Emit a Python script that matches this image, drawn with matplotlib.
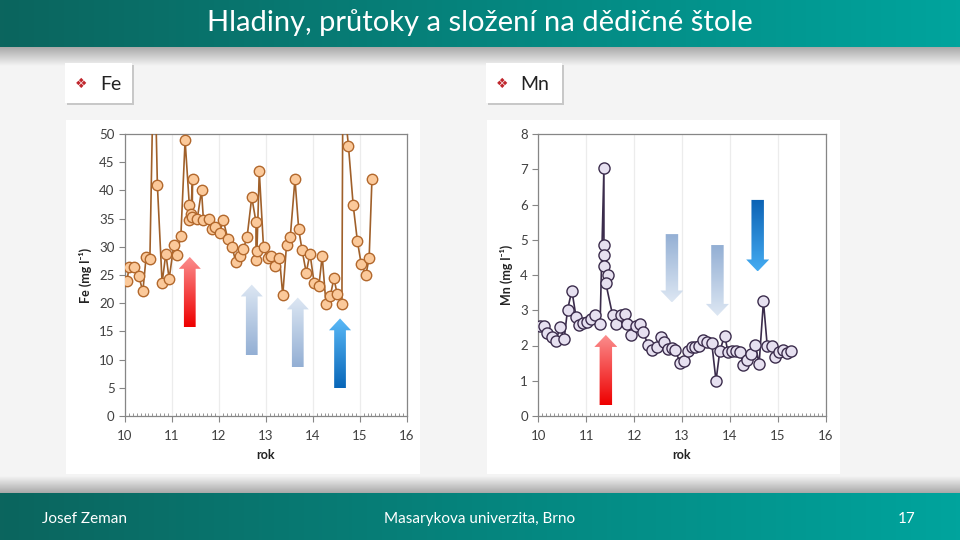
import numpy as np
import matplotlib
matplotlib.use('Agg')
import matplotlib.pyplot as plt
from matplotlib.patches import Polygon, Rectangle
from matplotlib.colors import LinearSegmentedColormap
from matplotlib.ticker import MultipleLocator

plt.rcParams['font.family'] = ['Lato', 'DejaVu Sans']

# data (x = rok, values in mg/l)
fe_x = [10.04, 10.09, 10.19, 10.29, 10.38, 10.45, 10.53, 10.62, 10.69, 10.79,
        10.87, 10.94, 11.04, 11.10, 11.19, 11.28, 11.37, 11.37, 11.40, 11.44,
        11.43, 11.54, 11.63, 11.67, 11.78, 11.85, 11.92, 12.02, 12.09, 12.19,
        12.28, 12.36, 12.45, 12.52, 12.60, 12.70, 12.79, 12.79, 12.81, 12.86,
        12.95, 13.04, 13.12, 13.20, 13.29, 13.36, 13.44, 13.52, 13.62, 13.70,
        13.77, 13.86, 13.94, 14.03, 14.13, 14.20, 14.28, 14.37, 14.45, 14.52,
        14.62, 14.64, 14.76, 14.86, 14.95, 15.03, 15.13, 15.20, 15.26]
fe_y = [23.9, 26.5, 26.4, 24.9, 22.1, 28.2, 27.8, 68.0, 40.9, 23.6,
        28.8, 24.3, 30.3, 28.5, 31.9, 48.9, 37.4, 34.8, 35.8, 42.0,
        35.3, 35.0, 40.0, 34.8, 35.0, 33.2, 33.5, 32.5, 34.8, 31.4,
        30.0, 27.3, 28.4, 29.6, 31.7, 38.8, 34.4, 27.7, 29.2, 43.4,
        29.9, 28.1, 28.4, 26.6, 28.1, 21.4, 30.3, 31.7, 42.0, 33.1,
        29.5, 25.4, 28.8, 23.5, 23.1, 28.4, 19.9, 21.2, 24.4, 21.6,
        19.9, 58.0, 47.8, 37.4, 31.0, 27.0, 25.0, 28.0, 42.0]

mn_x = [10.04, 10.12, 10.19, 10.29, 10.37, 10.45, 10.54, 10.61, 10.70, 10.79,
        10.86, 10.94, 11.02, 11.11, 11.19, 11.29, 11.37, 11.37, 11.37, 11.37,
        11.46, 11.41, 11.55, 11.62, 11.72, 11.80, 11.86, 11.94, 12.03, 12.12,
        12.19, 12.29, 12.37, 12.47, 12.56, 12.62, 12.71, 12.79, 12.86, 12.96,
        13.04, 13.13, 13.21, 13.28, 13.36, 13.44, 13.53, 13.62, 13.71, 13.79,
        13.89, 13.96, 14.04, 14.13, 14.21, 14.28, 14.36, 14.45, 14.53, 14.61,
        14.70, 14.78, 14.88, 14.95, 15.03, 15.11, 15.19, 15.28]
mn_y = [2.55, 2.55, 2.35, 2.23, 2.12, 2.52, 2.19, 3.01, 3.56, 2.80,
        2.58, 2.65, 2.66, 2.75, 2.86, 2.61, 7.04, 4.84, 4.56, 4.26,
        3.99, 3.76, 2.87, 2.60, 2.86, 2.88, 2.60, 2.31, 2.54, 2.62,
        2.38, 2.02, 1.86, 1.95, 2.25, 2.10, 1.89, 1.93, 1.86, 1.51,
        1.56, 1.85, 1.95, 1.95, 1.99, 2.15, 2.10, 2.08, 1.00, 1.85,
        2.28, 1.82, 1.84, 1.84, 1.82, 1.45, 1.59, 1.75, 2.02, 1.48,
        3.25, 1.98, 1.98, 1.68, 1.81, 1.86, 1.80, 1.85]

# arrows: (x, tail, tip, tail colour, tip colour)
fe_arrows = [(11.38, 15.7, 28.2, '#ee0000', '#fb8f8f'),
             (12.70, 10.8, 23.3, '#93afd4', '#dde7f3'),
             (13.68, 8.6, 21.0, '#93afd4', '#dde7f3'),
             (14.58, 4.9, 17.3, '#0866b8', '#5ab9f7')]
mn_arrows = [(11.41, 0.30, 2.30, '#ee0000', '#fb8f8f'),
             (12.79, 5.16, 3.22, '#93afd4', '#dde7f3'),
             (13.74, 4.85, 2.84, '#93afd4', '#dde7f3'),
             (14.58, 6.13, 4.10, '#0b62b4', '#45acf2')]

title = 'Hladiny, průtoky a složení na dědičné štole'

fig = plt.figure(figsize=(9.6, 5.4), dpi=100)
fig.patch.set_facecolor('#f4f4f4')

# background drawn in pixel coords
bg = fig.add_axes([0, 0, 1, 1], zorder=-5)
bg.axis('off')

teal = LinearSegmentedColormap.from_list('teal', ['#0b655e', '#00a49d'])
hgrad = np.linspace(0, 1, 256).reshape(1, -1)
bg.imshow(hgrad, cmap=teal, extent=(0, 960, 47, 0), aspect='auto')
bg.imshow(hgrad, cmap=teal, extent=(0, 960, 540, 493), aspect='auto')
shade = LinearSegmentedColormap.from_list('shade', ['#a9a9a9', '#f4f4f4'])
vgrad = np.linspace(0, 1, 64).reshape(-1, 1)
bg.imshow(vgrad, cmap=shade, extent=(0, 960, 66, 47), aspect='auto', origin='upper')
bg.imshow(vgrad, cmap=shade, extent=(0, 960, 476, 493), aspect='auto', origin='upper')
bg.set_xlim(0, 960)
bg.set_ylim(540, 0)

# white chart panels and label boxes
bg.add_patch(Rectangle((66, 120), 354, 354, fc='white', ec='none'))
bg.add_patch(Rectangle((487, 120), 353, 354, fc='white', ec='none'))
for bx, bw in [(65, 67), (486, 76)]:
    bg.add_patch(Rectangle((bx + 2, 65), bw, 40, fc='#c8c8c8', ec='none'))
    bg.add_patch(Rectangle((bx, 63), bw, 40, fc='white', ec='none'))
bg.text(75, 84, '❖', color='#c0272d', fontsize=10, va='center', family='DejaVu Sans')
bg.text(100, 84, 'Fe', color='#222222', fontsize=14, va='center')
bg.text(496, 84, '❖', color='#c0272d', fontsize=10, va='center', family='DejaVu Sans')
bg.text(520, 84, 'Mn', color='#222222', fontsize=14, va='center')

bg.text(480, 23, title, color='white', fontsize=21, ha='center', va='center')
bg.text(42, 519, 'Josef Zeman', color='white', fontsize=11, va='center')
bg.text(480, 519, 'Masarykova univerzita, Brno', color='white', fontsize=11,
        ha='center', va='center')
bg.text(916, 519, '17', color='white', fontsize=11, ha='right', va='center')


def grad_arrow(ax, x, y0, y1, c0, c1, sw, hw, hl):
    d = 1 if y1 > y0 else -1
    yb = y1 - d * hl
    verts = [(x - sw / 2, y0), (x + sw / 2, y0), (x + sw / 2, yb), (x + hw / 2, yb),
             (x, y1), (x - hw / 2, yb), (x - sw / 2, yb)]
    poly = Polygon(verts, closed=True, fc='none', ec='none')
    ax.add_patch(poly)
    cmap = LinearSegmentedColormap.from_list('a', [c0, c1])
    g = np.linspace(0, 1, 256).reshape(-1, 1)
    if d < 0:
        g = g[::-1]
    im = ax.imshow(g, cmap=cmap, extent=(x - hw / 2, x + hw / 2, min(y0, y1), max(y0, y1)),
                   origin='lower', aspect='auto', zorder=1)
    im.set_clip_path(poly)


def style_axes(ax, ymax, ystep, label):
    ax.set_xlim(10, 16)
    ax.set_ylim(0, ymax)
    ax.set_xticks(range(10, 17))
    ax.set_yticks(np.arange(0, ymax + 0.001, ystep))
    ax.xaxis.set_minor_locator(MultipleLocator(1 / 12))
    ax.tick_params(axis='both', which='major', labelsize=9.5, colors='#868686',
                   labelcolor='#404040', length=4, width=0.8)
    ax.tick_params(axis='x', which='minor', direction='in', length=2.5, width=0.6,
                   colors='#868686')
    ax.tick_params(axis='x', pad=6)
    for s in ax.spines.values():
        s.set_color('#868686')
        s.set_linewidth(0.9)
    ax.grid(axis='x', color='#ececec', linewidth=0.9)
    ax.set_axisbelow(True)
    ax.set_xlabel('rok', fontsize=9, fontweight='bold', color='#222222', labelpad=5)
    ax.set_ylabel(label, fontsize=9, fontweight='bold', color='#222222', labelpad=5)


ax1 = fig.add_axes([125 / 960, 124 / 540, 281.7 / 960, 282 / 540])
ax1.patch.set_alpha(0)
for x, t0, t1, c0, c1 in fe_arrows:
    grad_arrow(ax1, x, t0, t1, c0, c1, 0.25, 0.47, 2.1)
ax1.plot(fe_x, fe_y, '-o', color='#a0602a', lw=1.2, ms=7.5,
         mfc='#fbc99a', mec='#b2682c', mew=1.0, zorder=3)
style_axes(ax1, 50, 5, 'Fe (mg l⁻¹)')

ax2 = fig.add_axes([538.3 / 960, 124 / 540, 287.4 / 960, 282 / 540])
ax2.patch.set_alpha(0)
for x, t0, t1, c0, c1 in mn_arrows:
    grad_arrow(ax2, x, t0, t1, c0, c1, 0.26, 0.48, 0.34)
ax2.plot(mn_x, mn_y, '-o', color='#3b2c4c', lw=1.2, ms=8,
         mfc='#e6e0f0', mec='#3b2c4c', mew=1.0, zorder=3)
style_axes(ax2, 8, 1, 'Mn (mg l⁻¹)')

fig.savefig('out.png', dpi=100, facecolor=fig.get_facecolor())
